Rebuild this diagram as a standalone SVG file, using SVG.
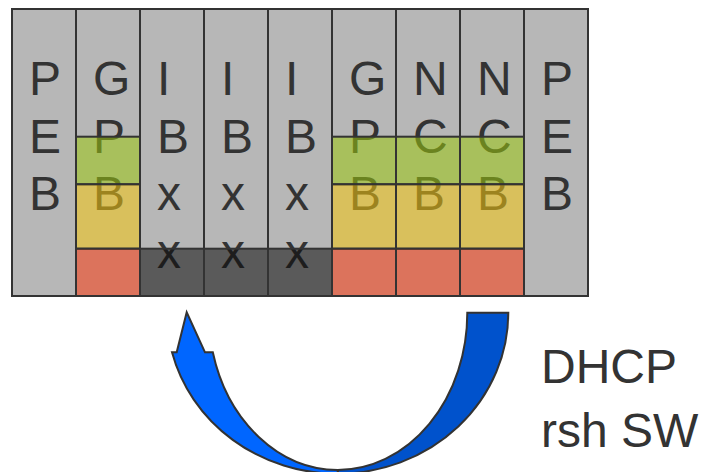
<svg xmlns="http://www.w3.org/2000/svg" width="702" height="472" viewBox="0 0 702 472">
<style>
.col{fill:#b7b7b7;stroke:#333;stroke-width:2}
.t{font-family:"Liberation Sans",Arial,sans-serif;font-size:48px;fill:#333}
.ov{stroke:#333;stroke-width:2;fill-opacity:0.54}
.g{fill:rgb(155,200,14)}
.y{fill:rgb(246,200,14)}
.r{fill:rgb(251,57,14)}
.d{fill:rgb(11,11,11)}
.arr{stroke:#333;stroke-width:2;stroke-linejoin:miter}
</style>
<rect width="702" height="472" fill="#fff"/>
<g id="col1"><rect class="col" x="12" y="9" width="64" height="287"/>
<text class="t" x="29" y="95">P</text><text class="t" x="29" y="152.5">E</text><text class="t" x="29" y="210">B</text></g>
<g id="col2"><rect class="col" x="76" y="9" width="64" height="287"/>
<text class="t" x="93" y="95">G</text><text class="t" x="93" y="152.5">P</text><text class="t" x="93" y="210">B</text>
<rect class="ov g" x="76" y="136.7" width="64" height="47.6"/><rect class="ov y" x="76" y="184.3" width="64" height="64.4"/><rect class="ov r" x="76" y="248.7" width="64" height="47.3"/></g>
<g id="col3"><rect class="col" x="140" y="9" width="64" height="287"/>
<text class="t" x="157" y="95">I</text><text class="t" x="157" y="152.5">B</text><text class="t" x="157" y="210">x</text><text class="t" x="157" y="267.5">x</text>
<rect class="ov d" x="140" y="248.7" width="64" height="47.3"/></g>
<g id="col4"><rect class="col" x="204" y="9" width="64" height="287"/>
<text class="t" x="221" y="95">I</text><text class="t" x="221" y="152.5">B</text><text class="t" x="221" y="210">x</text><text class="t" x="221" y="267.5">x</text>
<rect class="ov d" x="204" y="248.7" width="64" height="47.3"/></g>
<g id="col5"><rect class="col" x="268" y="9" width="64" height="287"/>
<text class="t" x="285" y="95">I</text><text class="t" x="285" y="152.5">B</text><text class="t" x="285" y="210">x</text><text class="t" x="285" y="267.5">x</text>
<rect class="ov d" x="268" y="248.7" width="64" height="47.3"/></g>
<g id="col6"><rect class="col" x="332" y="9" width="64" height="287"/>
<text class="t" x="349" y="95">G</text><text class="t" x="349" y="152.5">P</text><text class="t" x="349" y="210">B</text>
<rect class="ov g" x="332" y="136.7" width="64" height="47.6"/><rect class="ov y" x="332" y="184.3" width="64" height="64.4"/><rect class="ov r" x="332" y="248.7" width="64" height="47.3"/></g>
<g id="col7"><rect class="col" x="396" y="9" width="64" height="287"/>
<text class="t" x="413" y="95">N</text><text class="t" x="413" y="152.5">C</text><text class="t" x="413" y="210">B</text>
<rect class="ov g" x="396" y="136.7" width="64" height="47.6"/><rect class="ov y" x="396" y="184.3" width="64" height="64.4"/><rect class="ov r" x="396" y="248.7" width="64" height="47.3"/></g>
<g id="col8"><rect class="col" x="460" y="9" width="64" height="287"/>
<text class="t" x="477" y="95">N</text><text class="t" x="477" y="152.5">C</text><text class="t" x="477" y="210">B</text>
<rect class="ov g" x="460" y="136.7" width="64" height="47.6"/><rect class="ov y" x="460" y="184.3" width="64" height="64.4"/><rect class="ov r" x="460" y="248.7" width="64" height="47.3"/></g>
<g id="col9"><rect class="col" x="524" y="9" width="64" height="287"/>
<text class="t" x="541" y="95">P</text><text class="t" x="541" y="152.5">E</text><text class="t" x="541" y="210">B</text></g>
<g id="connectors">
<path class="arr" fill="#0052cc" d="M467.3,312.7 L508.3,312.7 A170.6,161 0 0 1 337.7,473.7 L337.7,470 A129.6,157.3 0 0 0 467.3,312.7 Z"/>
<path class="arr" fill="#0066ff" d="M337.7,470 A129.6,157.3 0 0 1 212.8,352.3 L205,352.3 L186.7,312.3 L176.7,352.3 L172,352.3 A170.6,161 0 0 0 337.7,473.7 Z"/>
</g>
<g id="labels">
<text class="t" x="541" y="383.3">DHCP</text>
<text class="t" x="541" y="446.7">rsh SW</text>
</g>
</svg>
